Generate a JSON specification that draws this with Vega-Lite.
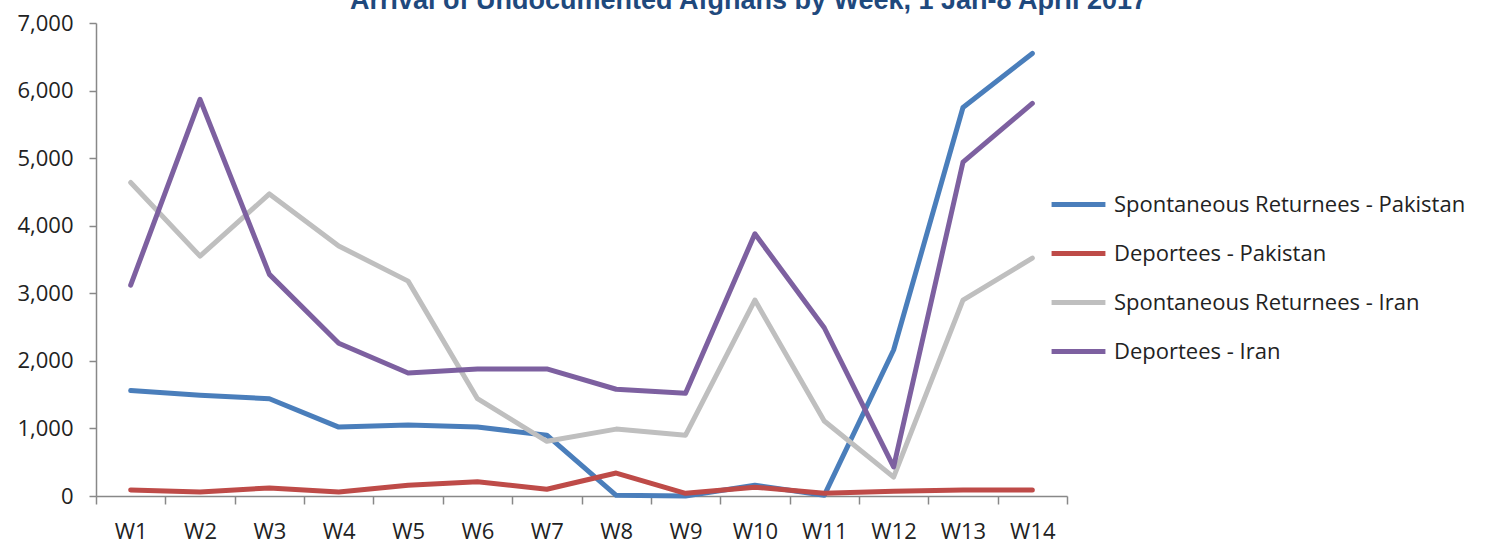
{
  "$schema": "https://vega.github.io/schema/vega-lite/v6.json",
  "width": 971,
  "height": 473,
  "autosize": {"type": "none"},
  "padding": {"left": 96, "top": 23, "right": 429, "bottom": 50},
  "background": "white",
  "title": {
    "text": "Arrival of Undocumented Afghans by Week, 1 Jan-8 April 2017",
    "font": "Liberation Sans",
    "fontWeight": "bold",
    "fontSize": 27,
    "color": "#1F497D",
    "anchor": "middle",
    "dx": 167,
    "offset": -3
  },
  "data": {
    "values": [
      {"week": "W1", "series": "Spontaneous Returnees - Pakistan", "value": 1560},
      {"week": "W2", "series": "Spontaneous Returnees - Pakistan", "value": 1490},
      {"week": "W3", "series": "Spontaneous Returnees - Pakistan", "value": 1440},
      {"week": "W4", "series": "Spontaneous Returnees - Pakistan", "value": 1020},
      {"week": "W5", "series": "Spontaneous Returnees - Pakistan", "value": 1050},
      {"week": "W6", "series": "Spontaneous Returnees - Pakistan", "value": 1020},
      {"week": "W7", "series": "Spontaneous Returnees - Pakistan", "value": 900},
      {"week": "W8", "series": "Spontaneous Returnees - Pakistan", "value": 10},
      {"week": "W9", "series": "Spontaneous Returnees - Pakistan", "value": 0},
      {"week": "W10", "series": "Spontaneous Returnees - Pakistan", "value": 160},
      {"week": "W11", "series": "Spontaneous Returnees - Pakistan", "value": 10},
      {"week": "W12", "series": "Spontaneous Returnees - Pakistan", "value": 2160},
      {"week": "W13", "series": "Spontaneous Returnees - Pakistan", "value": 5750},
      {"week": "W14", "series": "Spontaneous Returnees - Pakistan", "value": 6550},
      {"week": "W1", "series": "Deportees - Pakistan", "value": 90},
      {"week": "W2", "series": "Deportees - Pakistan", "value": 60},
      {"week": "W3", "series": "Deportees - Pakistan", "value": 120},
      {"week": "W4", "series": "Deportees - Pakistan", "value": 60},
      {"week": "W5", "series": "Deportees - Pakistan", "value": 160},
      {"week": "W6", "series": "Deportees - Pakistan", "value": 210},
      {"week": "W7", "series": "Deportees - Pakistan", "value": 100},
      {"week": "W8", "series": "Deportees - Pakistan", "value": 340},
      {"week": "W9", "series": "Deportees - Pakistan", "value": 40},
      {"week": "W10", "series": "Deportees - Pakistan", "value": 130},
      {"week": "W11", "series": "Deportees - Pakistan", "value": 40},
      {"week": "W12", "series": "Deportees - Pakistan", "value": 70},
      {"week": "W13", "series": "Deportees - Pakistan", "value": 90},
      {"week": "W14", "series": "Deportees - Pakistan", "value": 90},
      {"week": "W1", "series": "Spontaneous Returnees - Iran", "value": 4640},
      {"week": "W2", "series": "Spontaneous Returnees - Iran", "value": 3550},
      {"week": "W3", "series": "Spontaneous Returnees - Iran", "value": 4470},
      {"week": "W4", "series": "Spontaneous Returnees - Iran", "value": 3700},
      {"week": "W5", "series": "Spontaneous Returnees - Iran", "value": 3180},
      {"week": "W6", "series": "Spontaneous Returnees - Iran", "value": 1440},
      {"week": "W7", "series": "Spontaneous Returnees - Iran", "value": 810},
      {"week": "W8", "series": "Spontaneous Returnees - Iran", "value": 990},
      {"week": "W9", "series": "Spontaneous Returnees - Iran", "value": 900},
      {"week": "W10", "series": "Spontaneous Returnees - Iran", "value": 2900},
      {"week": "W11", "series": "Spontaneous Returnees - Iran", "value": 1110},
      {"week": "W12", "series": "Spontaneous Returnees - Iran", "value": 280},
      {"week": "W13", "series": "Spontaneous Returnees - Iran", "value": 2900},
      {"week": "W14", "series": "Spontaneous Returnees - Iran", "value": 3520},
      {"week": "W1", "series": "Deportees - Iran", "value": 3120},
      {"week": "W2", "series": "Deportees - Iran", "value": 5870},
      {"week": "W3", "series": "Deportees - Iran", "value": 3280},
      {"week": "W4", "series": "Deportees - Iran", "value": 2260},
      {"week": "W5", "series": "Deportees - Iran", "value": 1820},
      {"week": "W6", "series": "Deportees - Iran", "value": 1880},
      {"week": "W7", "series": "Deportees - Iran", "value": 1880},
      {"week": "W8", "series": "Deportees - Iran", "value": 1580},
      {"week": "W9", "series": "Deportees - Iran", "value": 1520},
      {"week": "W10", "series": "Deportees - Iran", "value": 3880},
      {"week": "W11", "series": "Deportees - Iran", "value": 2490},
      {"week": "W12", "series": "Deportees - Iran", "value": 430},
      {"week": "W13", "series": "Deportees - Iran", "value": 4940},
      {"week": "W14", "series": "Deportees - Iran", "value": 5810}
    ]
  },
  "mark": {"type": "line", "strokeWidth": 5, "strokeCap": "round", "strokeJoin": "round"},
  "encoding": {
    "x": {
      "field": "week",
      "type": "ordinal",
      "sort": null,
      "bandPosition": 0.5,
      "scale": {"type": "band", "paddingInner": 0, "paddingOuter": 0},
      "axis": {
        "title": null,
        "labelAngle": 0,
        "tickBand": "extent",
        "tickSize": 8,
        "tickColor": "#888888",
        "domainColor": "#888888",
        "domainWidth": 1.5,
        "tickWidth": 1.5,
        "labelPadding": 17,
        "labelFont": "Open Sans",
        "labelFontSize": 22,
        "labelColor": "#222222",
        "grid": false
      }
    },
    "y": {
      "field": "value",
      "type": "quantitative",
      "scale": {"domain": [0, 7000], "nice": false},
      "axis": {
        "title": null,
        "values": [0, 1000, 2000, 3000, 4000, 5000, 6000, 7000],
        "format": ",d",
        "tickSize": 7,
        "tickColor": "#888888",
        "domainColor": "#888888",
        "domainWidth": 1.5,
        "tickWidth": 1.5,
        "labelPadding": 16,
        "labelFont": "Open Sans",
        "labelFontSize": 22,
        "labelColor": "#222222",
        "grid": false
      }
    },
    "color": {
      "field": "series",
      "type": "nominal",
      "sort": ["Spontaneous Returnees - Pakistan", "Deportees - Pakistan", "Spontaneous Returnees - Iran", "Deportees - Iran"],
      "scale": {
        "domain": ["Spontaneous Returnees - Pakistan", "Deportees - Pakistan", "Spontaneous Returnees - Iran", "Deportees - Iran"],
        "range": ["#4A7EBB", "#BE4B48", "#BFBFBF", "#7D60A0"]
      },
      "legend": {
        "title": null,
        "orient": "none",
        "legendX": 953,
        "legendY": 152,
        "symbolType": "stroke",
        "symbolSize": 2900,
        "symbolStrokeWidth": 5,
        "labelFont": "Open Sans",
        "labelFontSize": 22,
        "labelColor": "#222222",
        "labelOffset": 6,
        "rowPadding": 8,
        "labelLimit": 500
      }
    }
  },
  "config": {"view": {"stroke": null}}
}
